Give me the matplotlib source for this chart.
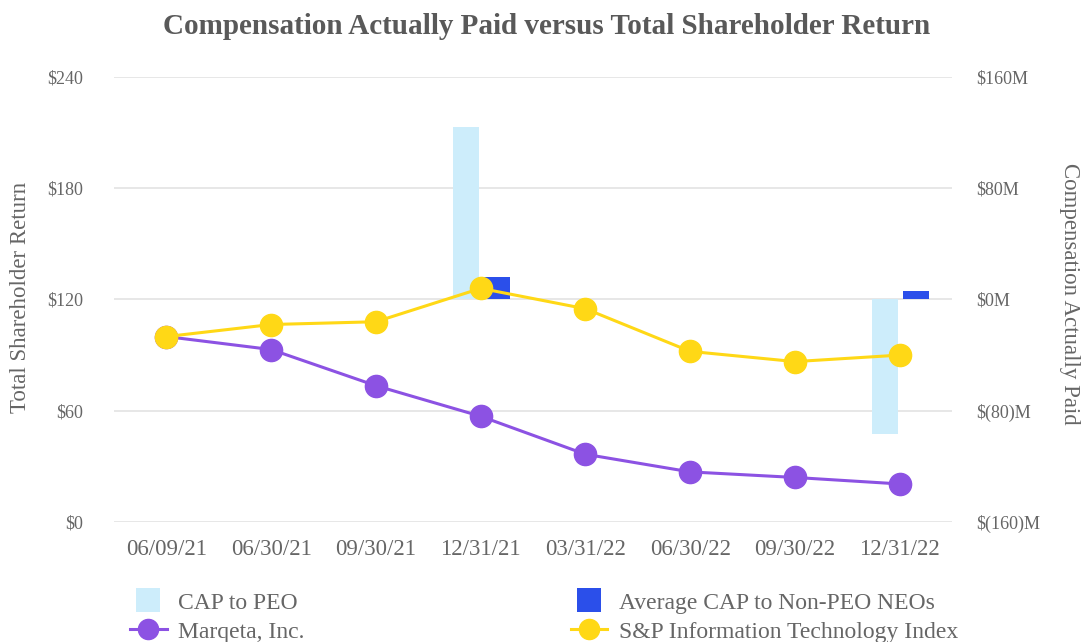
import matplotlib
matplotlib.use('Agg')
import matplotlib.pyplot as plt
from matplotlib.lines import Line2D
import numpy as np

# ---- data ----
dates = ["06/09/21", "06/30/21", "09/30/21", "12/31/21",
         "03/31/22", "06/30/22", "09/30/22", "12/31/22"]
marqeta_tsr = [100, 93, 73.5, 57, 36.5, 27, 24, 20.5]
sp_it_tsr = [100, 106.5, 108, 126, 115, 92, 86.5, 90]
cap_peo = [0, 0, 0, 124, 0, 0, 0, -97]        # $M
cap_non_peo = [0, 0, 0, 16, 0, 0, 0, 6]       # $M

left_ticks = [0, 60, 120, 180, 240]
left_labels = ["$0", "$60", "$120", "$180", "$240"]
right_ticks = [-160, -80, 0, 80, 160]
right_labels = ["$(160)M", "$(80)M", "$0M", "$80M", "$160M"]

# ---- style ----
plt.rcParams['font.family'] = ['Liberation Serif', 'DejaVu Serif']
TXT = '#666666'
C_PEO = '#CDEDFB'
C_NEO = '#2B4FEA'
C_MQ = '#8C52E3'
C_SP = '#FFD816'
GRID = '#E5E5E5'

fig = plt.figure(figsize=(10.87, 6.42), dpi=100)
pos = [0.1049, 0.187, 0.771, 0.693]
ax2 = fig.add_axes(pos)                 # bars / right axis
ax1 = fig.add_axes(pos, sharex=ax2)     # lines / left axis
ax1.set_zorder(ax2.get_zorder() + 1)
ax1.patch.set_visible(False)

x = np.arange(len(dates))
w = 0.245
ax2.bar(x - 0.14, cap_peo, width=w, color=C_PEO, linewidth=0, zorder=3)
ax2.bar(x + 0.155, cap_non_peo, width=w, color=C_NEO, linewidth=0, zorder=3)
ax2.set_ylim(-160, 160)
ax2.set_yticks(right_ticks)
ax2.set_yticklabels(right_labels)
ax2.yaxis.tick_right()
ax2.grid(axis='y', color=GRID, linewidth=1.3, zorder=0)
ax2.set_axisbelow(True)

ax1.plot(x, marqeta_tsr, color=C_MQ, linewidth=2.2, marker='o', markersize=16,
         zorder=4)
ax1.plot(x, sp_it_tsr, color=C_SP, linewidth=2.2, marker='o', markersize=16,
         zorder=5)
ax1.set_ylim(0, 240)
ax1.set_yticks(left_ticks)
ax1.set_yticklabels(left_labels)
ax1.set_xlim(-0.5, len(dates) - 0.5)
ax1.set_xticks(x)
ax1.set_xticklabels(dates)

for a in (ax1, ax2):
    for s in a.spines.values():
        s.set_visible(False)
    a.tick_params(length=0, colors=TXT)
ax1.tick_params(axis='y', labelsize=13, pad=22)
ax2.tick_params(axis='y', labelsize=13, pad=17)
ax1.tick_params(axis='x', labelsize=16.5, pad=12)
ax2.tick_params(axis='x', labelbottom=False)

fig.text(0.0184, 0.537, "Total Shareholder Return", rotation=90,
         ha='center', va='center', fontsize=16.5, color=TXT)
fig.text(0.984, 0.543, "Compensation Actually Paid", rotation=-90,
         ha='center', va='center', fontsize=16.5, color=TXT)

fig.suptitle("Compensation Actually Paid versus Total Shareholder Return",
             x=0.503, y=0.979, fontsize=21, fontweight='bold', color='#595959')

h_peo = Line2D([], [], linestyle='none', marker='s', markersize=17,
               markerfacecolor=C_PEO, markeredgewidth=0)
h_neo = Line2D([], [], linestyle='none', marker='s', markersize=17,
               markerfacecolor=C_NEO, markeredgewidth=0)
h_mq = Line2D([], [], color=C_MQ, linewidth=2.2, marker='o', markersize=14.5)
h_sp = Line2D([], [], color=C_SP, linewidth=2.2, marker='o', markersize=14.5)

leg_kw = dict(frameon=False, fontsize=17, labelcolor=TXT, handlelength=1.55,
              handleheight=1.0, handletextpad=0.5, labelspacing=0.22,
              borderaxespad=0, borderpad=0)
l1 = fig.legend([h_peo, h_mq], ["CAP to PEO", "Marqeta, Inc."],
                loc='upper left', bbox_to_anchor=(0.1196, 0.080), **leg_kw)
l2 = fig.legend([h_neo, h_sp], ["Average CAP to Non-PEO NEOs",
                                "S&P Information Technology Index"],
                loc='upper left', bbox_to_anchor=(0.525, 0.080), **leg_kw)

fig.savefig("out.png", dpi=100)
